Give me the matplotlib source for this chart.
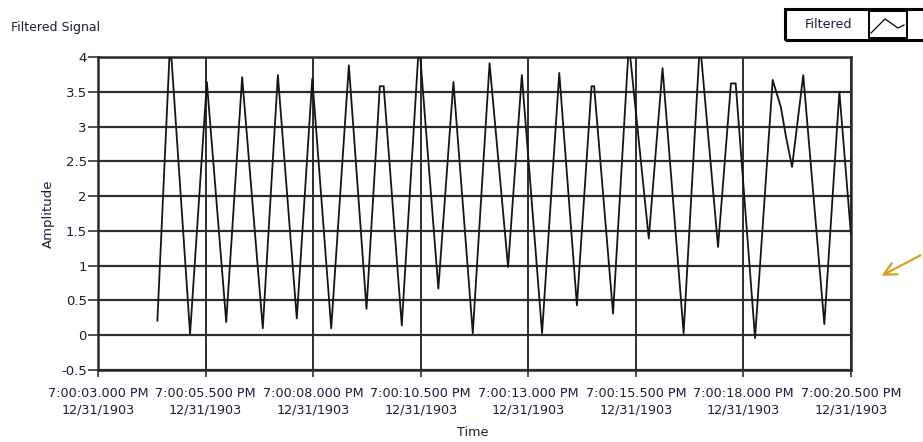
import matplotlib
matplotlib.use("Agg")
import matplotlib.pyplot as plt
from matplotlib.patches import Rectangle
from matplotlib.lines import Line2D

# ---- data (seconds after 7:00:00 PM, amplitude) ----
time_s = [4.38, 4.66, 4.71, 5.14, 5.53, 5.98, 6.35, 6.83, 7.18, 7.62, 7.98,
          8.42, 8.83, 9.24, 9.55, 9.64, 10.06, 10.44, 10.49, 10.91, 11.26,
          11.71, 12.10, 12.53, 12.85, 13.32, 13.72, 14.13, 14.47, 14.53, 14.97,
          15.32, 15.37, 15.80, 16.12, 16.61, 16.97, 17.02, 17.41, 17.71, 17.82,
          18.27, 18.68, 18.87, 18.99, 19.13, 19.39, 19.88, 20.23, 20.50]
amplitude = [0.21, 4.00, 3.96, 0.02, 3.64, 0.19, 3.71, 0.10, 3.74, 0.24, 3.69,
             0.10, 3.88, 0.38, 3.58, 3.58, 0.14, 4.00, 4.00, 0.67, 3.64,
             0.03, 3.91, 0.98, 3.74, 0.03, 3.77, 0.43, 3.58, 3.58, 0.31,
             4.00, 4.00, 1.39, 3.84, 0.03, 4.00, 4.00, 1.27, 3.62, 3.62,
             -0.04, 3.67, 3.28, 2.85, 2.42, 3.74, 0.16, 3.50, 1.44]

x_ticks = [3.0, 5.5, 8.0, 10.5, 13.0, 15.5, 18.0, 20.5]
x_tick_labels = ["7:00:03.000 PM\n12/31/1903", "7:00:05.500 PM\n12/31/1903",
                 "7:00:08.000 PM\n12/31/1903", "7:00:10.500 PM\n12/31/1903",
                 "7:00:13.000 PM\n12/31/1903", "7:00:15.500 PM\n12/31/1903",
                 "7:00:18.000 PM\n12/31/1903", "7:00:20.500 PM\n12/31/1903"]
y_ticks = [-0.5, 0, 0.5, 1, 1.5, 2, 2.5, 3, 3.5, 4]
y_tick_labels = ["-0.5", "0", "0.5", "1", "1.5", "2", "2.5", "3", "3.5", "4"]

W, H = 923, 442
plt.rcParams['font.family'] = ['DejaVu Sans']
fig = plt.figure(figsize=(W / 100, H / 100), dpi=100)
fig.patch.set_facecolor('white')

ax = fig.add_axes([98 / W, 1 - 370 / H, (851 - 98) / W, (370 - 57) / H])
ax.set_xlim(3.0, 20.5)
ax.set_ylim(-0.5, 4.0)

txt_col = '#1c1c3a'
ax.set_xticks(x_ticks)
ax.set_xticklabels(x_tick_labels, fontsize=9.2, color=txt_col, linespacing=1.4)
ax.set_yticks(y_ticks)
ax.set_yticklabels(y_tick_labels, fontsize=9.5, color=txt_col)
ax.tick_params(axis='x', length=5, width=1.2, color='#333333', pad=7)
ax.tick_params(axis='y', length=7, width=1.2, color='#333333', pad=1)

for y in y_ticks:
    ax.axhline(y, color='#2e2e2e', lw=1.6, zorder=1)
for x in x_ticks:
    ax.axvline(x, color='#2e2e2e', lw=1.4, zorder=1)

for s in ax.spines.values():
    s.set_color('#2a2a2a')
    s.set_linewidth(1.8)

ax.plot(time_s, amplitude, color='#151515', lw=1.3, zorder=3)

fig.text(473 / W, 1 - 433 / H, "Time", fontsize=9.2, color=txt_col,
         ha='center', va='center')
fig.text(48 / W, 1 - 214 / H, "Amplitude", rotation=90, fontsize=9.5,
         color=txt_col, ha='center', va='center')
fig.text(11 / W, 1 - 27 / H, "Filtered Signal", fontsize=9.0, color=txt_col,
         ha='left', va='center')

# legend box (top right, partly cut off)
def fbox(x0, y0, x1, y1, lw):
    fig.patches.append(Rectangle((x0 / W, 1 - y1 / H), (x1 - x0) / W, (y1 - y0) / H,
                                 transform=fig.transFigure, fill=False,
                                 edgecolor='black', lw=lw))

fbox(785, 9, 930, 40, 2.2)
fbox(869, 11, 907, 38, 1.4)
fig.text(828 / W, 1 - 24 / H, "Filtered", fontsize=9.2, color=txt_col,
         ha='center', va='center')
ix = [871, 885, 898, 904]
iy = [33, 19, 28, 25]
fig.lines.append(Line2D([v / W for v in ix], [1 - v / H for v in iy],
                        transform=fig.transFigure, color='black', lw=0.9))

# orange arrow on the right
ax.annotate("", xy=(879 / W, 1 - 277 / H), xycoords='figure fraction',
            xytext=(923 / W, 1 - 254 / H), textcoords='figure fraction',
            arrowprops=dict(arrowstyle='->,head_length=0.9,head_width=0.45',
                            color='#d9a020', lw=1.6))

fig.savefig("out.png", dpi=100, facecolor='white')
